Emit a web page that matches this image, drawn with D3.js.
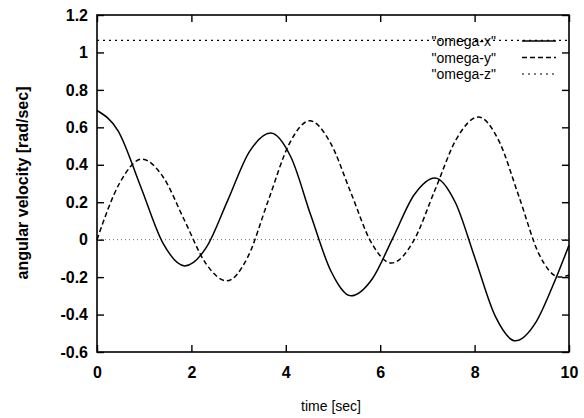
<!DOCTYPE html>
<html>
<head>
<meta charset="utf-8">
<script src="https://cdn.jsdelivr.net/npm/d3@7"></script>
<style>
  html, body { margin: 0; padding: 0; background: #fff; }
  svg text { font-family: "Liberation Sans", Arial, sans-serif; fill: #000; }
</style>
</head>
<body>
<div id="chart"></div>
<script>
// values
const omegaXTime = [0, 0.45, 0.93, 1.4, 1.86, 2.32, 2.77, 3.23, 3.68, 4.11, 4.53, 4.96, 5.38, 5.83, 6.27, 6.72, 7.16, 7.59, 8.01, 8.44, 8.86, 9.3, 9.65, 10];
const omegaX = [0.69, 0.58, 0.28, -0.02, -0.14, -0.04, 0.21, 0.47, 0.57, 0.44, 0.13, -0.17, -0.30, -0.21, 0.01, 0.24, 0.33, 0.20, -0.10, -0.41, -0.54, -0.44, -0.25, -0.03];

const omegaYTime = [0, 0.475, 0.95, 1.4, 1.85, 2.3, 2.75, 3.19, 3.63, 4.07, 4.51, 4.94, 5.38, 5.81, 6.24, 6.7, 7.16, 7.62, 8.08, 8.51, 8.94, 9.37, 9.8, 10];
const omegaY = [0.0, 0.30, 0.43, 0.335, 0.105, -0.125, -0.22, -0.095, 0.21, 0.51, 0.635, 0.52, 0.25, -0.015, -0.125, -0.01, 0.265, 0.54, 0.655, 0.53, 0.23, -0.08, -0.20, -0.19];

const omegaZTime = [0, 10];
const omegaZ = [1.065, 1.065];

const xTicks = [0, 2, 4, 6, 8, 10];
const yTicks = [-0.6, -0.4, -0.2, 0, 0.2, 0.4, 0.6, 0.8, 1, 1.2];
const yTickLabels = ["-0.6", "-0.4", "-0.2", "0", "0.2", "0.4", "0.6", "0.8", "1", "1.2"];
const seriesNames = ['"omega-x"', '"omega-y"', '"omega-z"'];

const width = 584, height = 418;
const margin = { top: 15, right: 15, bottom: 66, left: 97 };

const svg = d3.select("#chart").append("svg")
    .attr("width", width)
    .attr("height", height);

const x = d3.scaleLinear().domain([0, 10]).range([margin.left, width - margin.right]);
const y = d3.scaleLinear().domain([-0.6, 1.2]).range([height - margin.bottom, margin.top]);

// zero line
svg.append("line")
    .attr("x1", x(0)).attr("x2", x(10))
    .attr("y1", y(0)).attr("y2", y(0))
    .attr("stroke", "#555")
    .attr("stroke-width", 0.9)
    .attr("stroke-dasharray", "1,3");

// axes, ticks inside and mirrored
const styleAxis = g => {
    g.select(".domain").remove();
    g.selectAll("line").attr("stroke", "#000").attr("stroke-width", 1.4);
};

svg.append("g")
    .attr("transform", `translate(0,${y(-0.6)})`)
    .call(d3.axisBottom(x).tickValues(xTicks).tickSizeInner(-7).tickSizeOuter(0).tickPadding(15).tickFormat(d => String(d)))
    .call(styleAxis)
    .call(g => g.selectAll("text").attr("font-size", 16).attr("font-weight", "bold"));

svg.append("g")
    .attr("transform", `translate(0,${y(1.2)})`)
    .call(d3.axisTop(x).tickValues(xTicks).tickSizeInner(-7).tickSizeOuter(0).tickFormat(""))
    .call(styleAxis);

svg.append("g")
    .attr("transform", `translate(${x(0)},0)`)
    .call(d3.axisLeft(y).tickValues(yTicks).tickSizeInner(-7).tickSizeOuter(0).tickPadding(9).tickFormat((d, i) => yTickLabels[i]))
    .call(styleAxis)
    .call(g => g.selectAll("text").attr("font-size", 16).attr("font-weight", "bold"));

svg.append("g")
    .attr("transform", `translate(${x(10)},0)`)
    .call(d3.axisRight(y).tickValues(yTicks).tickSizeInner(-7).tickSizeOuter(0).tickFormat(""))
    .call(styleAxis);

// border
svg.append("rect")
    .attr("x", x(0)).attr("y", y(1.2))
    .attr("width", x(10) - x(0))
    .attr("height", y(-0.6) - y(1.2))
    .attr("fill", "none")
    .attr("stroke", "#000")
    .attr("stroke-width", 1.6);

// curves
const line = d3.line()
    .x(d => x(d[0]))
    .y(d => y(d[1]))
    .curve(d3.curveMonotoneX);

const series = [
    { time: omegaXTime, values: omegaX, dash: null, width: 1.5 },
    { time: omegaYTime, values: omegaY, dash: "5,3", width: 1.5 },
    { time: omegaZTime, values: omegaZ, dash: "2,4", width: 1.2 }
];

series.forEach(s => {
    svg.append("path")
        .datum(s.time.map((t, i) => [t, s.values[i]]))
        .attr("fill", "none")
        .attr("stroke", "#000")
        .attr("stroke-width", s.width)
        .attr("stroke-dasharray", s.dash)
        .attr("d", line);
});

// legend
const legend = svg.append("g");
seriesNames.forEach((name, i) => {
    const by = 46 + i * 16.5;
    legend.append("text")
        .attr("x", 496)
        .attr("y", by)
        .attr("text-anchor", "end")
        .attr("font-size", 14)
        .text(name);
    legend.append("line")
        .attr("x1", 522).attr("x2", 556)
        .attr("y1", by - 5).attr("y2", by - 5)
        .attr("stroke", "#000")
        .attr("stroke-width", series[i].width)
        .attr("stroke-dasharray", series[i].dash);
});

// axis titles
svg.append("text")
    .attr("x", 331)
    .attr("y", 411)
    .attr("text-anchor", "middle")
    .attr("font-size", 14)
    .text("time [sec]");

svg.append("text")
    .attr("transform", `translate(28,183) rotate(-90)`)
    .attr("text-anchor", "middle")
    .attr("font-size", 16)
    .attr("font-weight", "bold")
    .text("angular velocity [rad/sec]");
</script>
</body>
</html>
